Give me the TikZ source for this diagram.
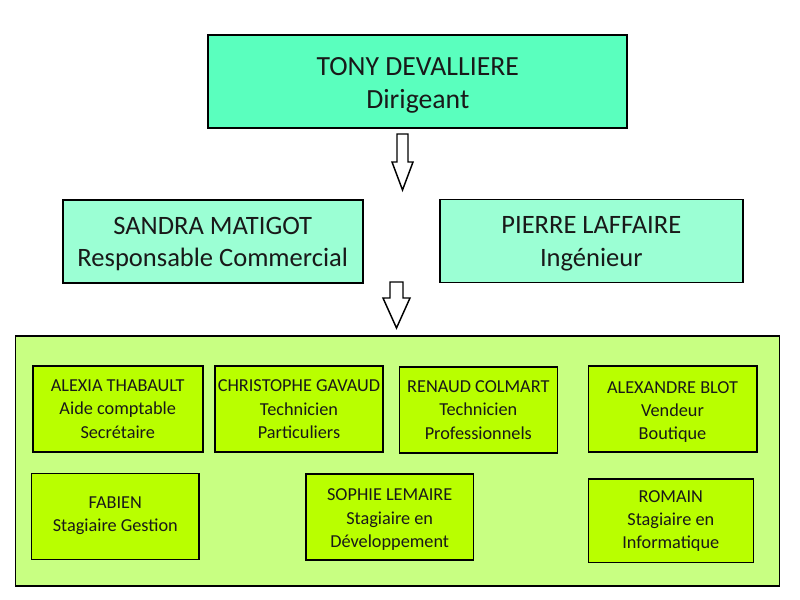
\documentclass[tikz,border=0pt]{standalone}
\usepackage{fontspec}
\setmainfont{Carlito}
\definecolor{topc}{RGB}{90,255,190}
\definecolor{midc}{RGB}{155,255,212}
\definecolor{contc}{RGB}{200,255,130}
\definecolor{innc}{RGB}{185,255,0}
\newdimen\pxu \pxu=0.75pt
\tikzset{
  bx/.style={draw=black, line width=1.4pt, rectangle, inner sep=0pt, align=center, text=black!90},
  topbox/.style={bx, fill=topc, minimum width=419\pxu, minimum height=93\pxu, font=\fontsize{20.8}{24.5}\selectfont},
  midbox/.style={bx, fill=midc, minimum width=300\pxu, minimum height=83\pxu, font=\fontsize{19.9}{24.5}\selectfont},
  contbox/.style={bx, fill=contc, minimum width=764\pxu, minimum height=250\pxu},
  inbox/.style={bx, line width=1.2pt, fill=innc, minimum height=86\pxu, font=\fontsize{13.7}{17.4}\selectfont},
  hollow/.style={draw=black, line width=1.1pt, fill=white, line join=miter}
}
\begin{document}
\begin{tikzpicture}[x=0.75pt, y=-0.75pt]
\useasboundingbox (0,0) rectangle (800,600);
% top
\node[topbox] (tony) at (417.8,81.2) {\mbox{}\\[-4.6pt]TONY DEVALLIERE\\Dirigeant};
% arrow 1
\draw[hollow] (397,134) -- (408,134) -- (408,162) -- (413,162) -- (402.5,190) -- (392,162) -- (397,162) -- cycle;
% middle
\node[midbox] (sandra) at (212.7,241.4) {\mbox{}\\[-7.4pt]SANDRA MATIGOT\\Responsable Commercial};
\node[midbox, minimum width=302.7\pxu] (pierre) at (591.3,241) {\mbox{}\\[-7.4pt]PIERRE LAFFAIRE\\Ingénieur};
% arrow 2
\draw[hollow] (390,282) -- (403,282) -- (403,298) -- (410,298) -- (396.5,328) -- (383,298) -- (390,298) -- cycle;
% container
\node[contbox] (team) at (397.5,461.3) {};
% inner boxes
\node[inbox, minimum width=170\pxu] (alexia) at (117.7,409.2) {ALEXIA THABAULT\\Aide comptable\\Secrétaire};
\node[inbox, minimum width=168\pxu] (christophe) at (299,409.2) {CHRISTOPHE GAVAUD\\Technicien\\Particuliers};
\node[inbox, minimum width=158\pxu] (renaud) at (478.3,410) {RENAUD COLMART\\Technicien\\Professionnels};
\node[inbox, minimum width=168.4\pxu] (alexandre) at (672.5,408.7) {\mbox{}\\[-3.3pt]ALEXANDRE BLOT\\Vendeur\\Boutique};
\node[inbox, minimum width=167.3\pxu] (fabien) at (115.3,516.3) {FABIEN\\Stagiaire Gestion\\[-14pt]\mbox{}};
\node[inbox, minimum width=167.3\pxu] (sophie) at (389.7,517.2) {\mbox{}\\[-4.8pt]SOPHIE LEMAIRE\\Stagiaire en\\Développement};
\node[inbox, minimum width=165\pxu, minimum height=83.7\pxu] (romain) at (670.8,520.8) {ROMAIN\\Stagiaire en\\Informatique};
\end{tikzpicture}
\end{document}
